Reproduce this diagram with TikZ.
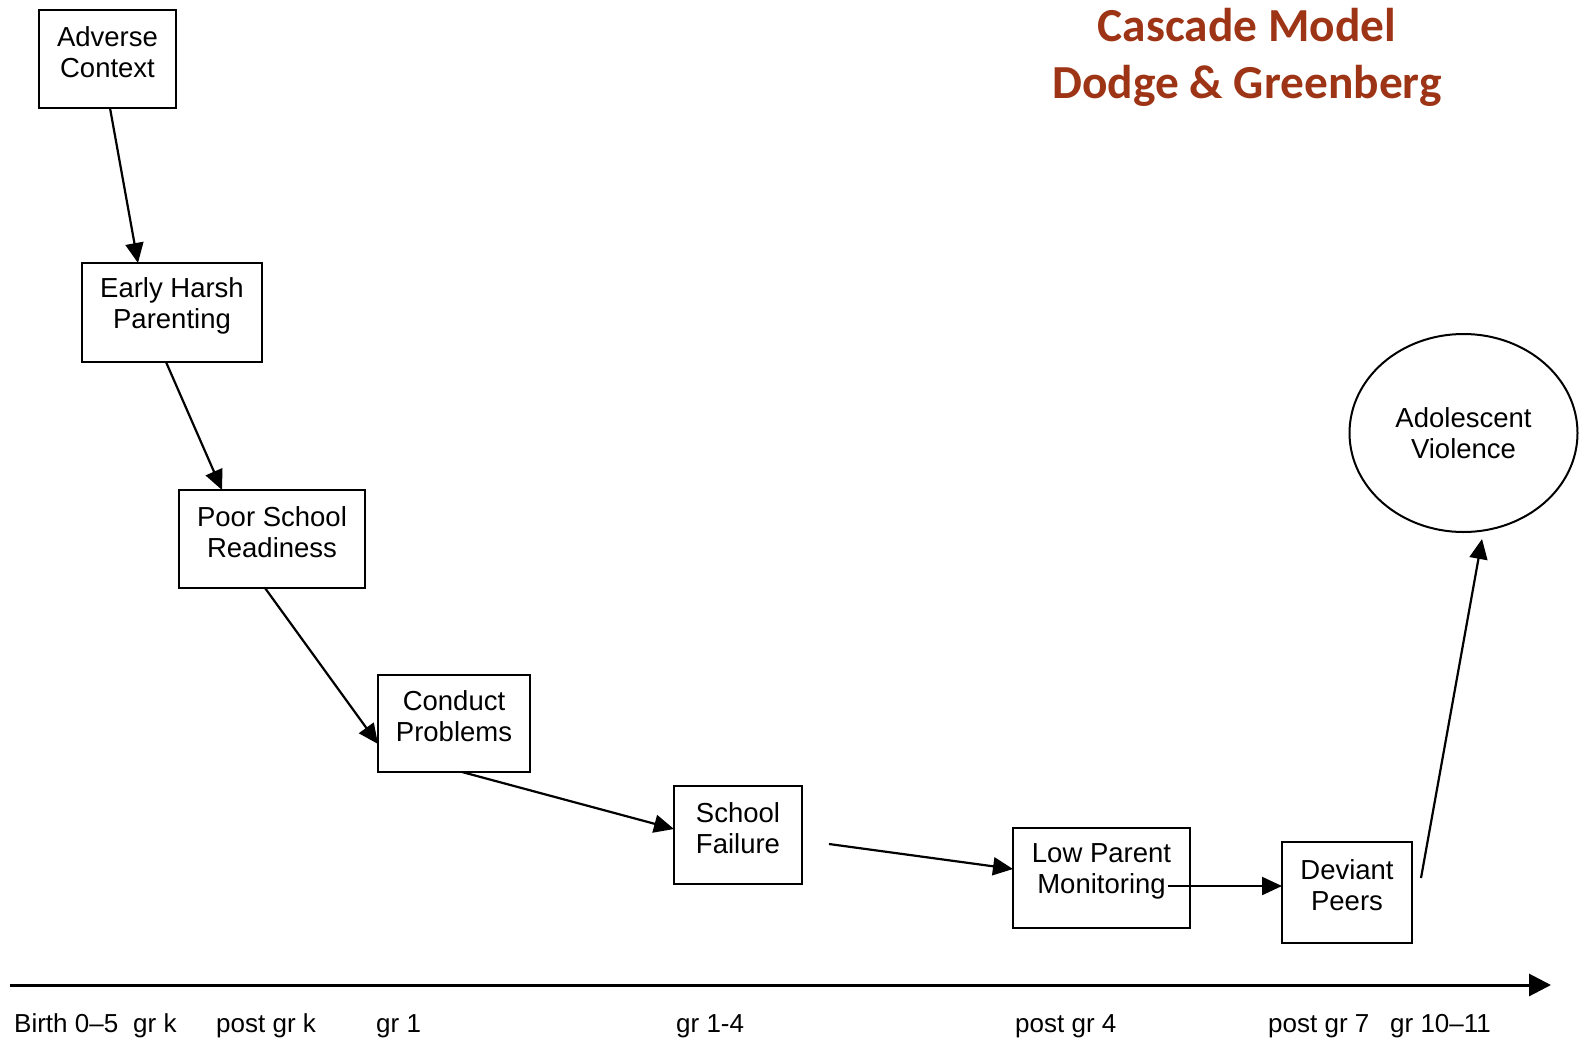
\documentclass[tikz,border=0pt]{standalone}
\usepackage{fontspec}
\setmainfont{Liberation Sans}
\newfontfamily\titlefont{Carlito}
\usetikzlibrary{arrows.meta,shapes.geometric,calc}
\definecolor{titlecol}{RGB}{158,52,22}
\begin{document}
\begin{tikzpicture}[x=1pt,y=-1pt,
  box/.style={draw, line width=2pt, inner sep=0pt, outer sep=0pt},
  txt/.style={font=\fontsize{27.5}{31}\selectfont, align=center, inner sep=0pt},
  axlab/.style={font=\fontsize{26}{30}\selectfont, anchor=base west, inner sep=0pt},
  conn/.style={line width=2.2pt, -{Triangle[length=20pt,width=18pt]}}]
\useasboundingbox (0,0) rectangle (1579,1041);

% title
\node[font=\titlefont\bfseries\fontsize{47.4}{57}\selectfont, text=titlecol, align=center, inner sep=0pt] (title) at (1247,57) {Cascade Model\\Dodge \& Greenberg};

% boxes
\node[box, minimum width=137pt, minimum height=98pt] (ac) at (107.5,59) {};
\node[txt] (act) at ([yshift=7pt]ac.center) {Adverse\\Context};

\node[box, minimum width=180pt, minimum height=99pt] (ehp) at (172,312.5) {};
\node[txt] (ehpt) at ([yshift=7pt]ehp.center) {Early Harsh\\Parenting};

\node[box, minimum width=186pt, minimum height=98pt] (psr) at (272,539) {};
\node[txt] (psrt) at ([yshift=7pt]psr.center) {Poor School\\Readiness};

\node[box, minimum width=152pt, minimum height=97pt] (cp) at (454,723.5) {};
\node[txt] (cpt) at ([yshift=7pt]cp.center) {Conduct\\Problems};

\node[box, minimum width=128pt, minimum height=98pt] (sf) at (738,835) {};
\node[txt] (sft) at ([yshift=7pt]sf.center) {School\\Failure};

\node[box, minimum width=177pt, minimum height=100pt] (lpm) at (1101.5,878) {};
\node[txt] (lpmt) at ([yshift=7pt]lpm.center) {Low Parent\\Monitoring};

\node[box, minimum width=130pt, minimum height=101pt] (dp) at (1347,892.5) {};
\node[txt] (dpt) at ([yshift=7pt]dp.center) {Deviant\\Peers};

\node[box, ellipse, minimum width=228pt, minimum height=198pt] (av) at (1463.5,433) {};
\node[txt] (avt) at (av.center) {Adolescent\\Violence};

% connectors
\draw[conn] ([xshift=2.5pt]ac.south) -- ([xshift=-34pt]ehp.north);
\draw[conn] ([xshift=-6pt]ehp.south) -- ([xshift=-50pt]psr.north);
\draw[conn] ([xshift=-7pt]psr.south) -- ([yshift=-20.5pt]cp.west);
\draw[conn] ([xshift=8pt]cp.south) -- ([yshift=6pt]sf.west);
\draw[conn] ([xshift=27pt,yshift=-9pt]sf.east) -- ([yshift=9pt]lpm.west);
\draw[conn] ([xshift=66.5pt,yshift=-8pt]lpm.center) -- ([yshift=6.5pt]dp.west);
\draw[conn] ([xshift=9pt,yshift=14.5pt]dp.east) -- ([xshift=18.5pt,yshift=-7pt]av.south);

% time axis
\coordinate (ax1) at (10,985);
\coordinate (ax2) at (1551,985);
\draw[line width=3pt, -{Triangle[length=22pt,width=22pt]}] (ax1) -- (ax2);

\node[axlab] (l1) at (14,1032) {Birth 0–5};
\node[axlab] (l2) at (133,1032) {gr k};
\node[axlab] (l3) at (216,1032) {post gr k};
\node[axlab] (l4) at (376,1032) {gr 1};
\node[axlab] (l5) at (676,1032) {gr 1-4};
\node[axlab] (l6) at (1015,1032) {post gr 4};
\node[axlab] (l7) at (1268,1032) {post gr 7};
\node[axlab] (l8) at (1390,1032) {gr 10–11};
\end{tikzpicture}
\end{document}
